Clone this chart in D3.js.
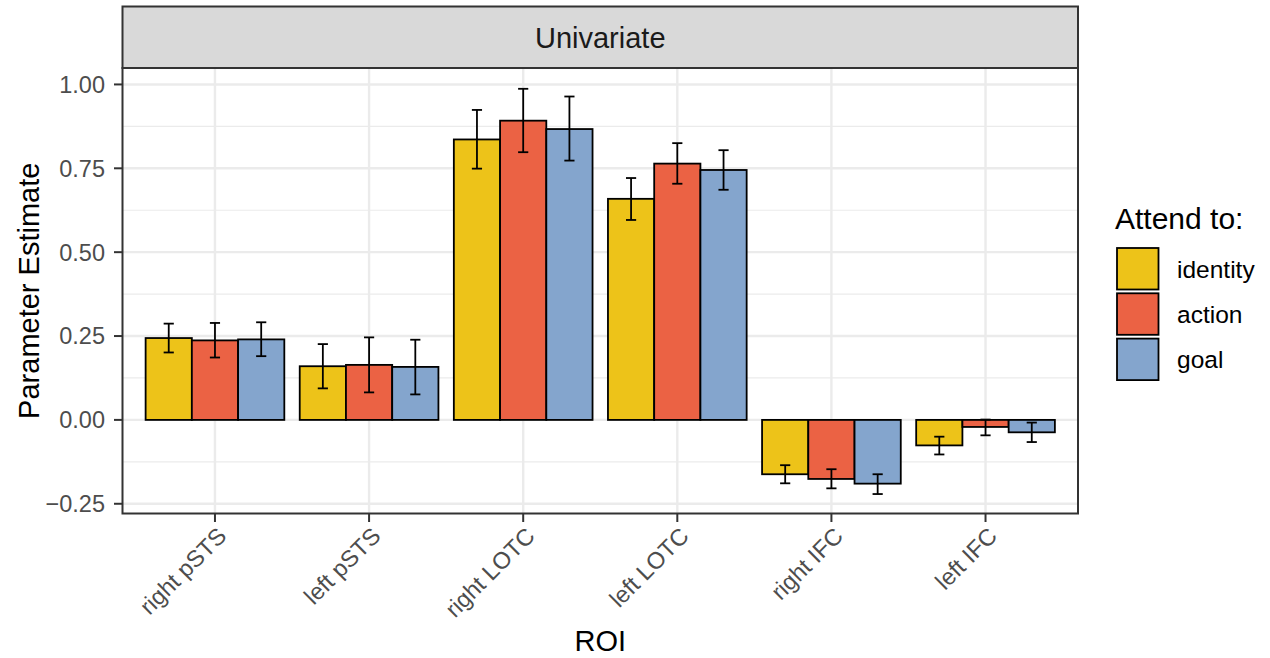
<!DOCTYPE html>
<html><head><meta charset="utf-8">
<script src="https://cdn.jsdelivr.net/npm/d3@7"></script>
<style>body{margin:0;background:#fff}svg{display:block;font-family:"Liberation Sans",Arial,Helvetica,sans-serif}</style>
</head><body><svg id="c" width="1270" height="658"></svg>
<script>
const categories = ["right pSTS","left pSTS","right LOTC","left LOTC","right IFC","left IFC"];
const seriesNames = ["identity","action","goal"];
const colors = ["#EDC319","#EB6244","#84A5CD"];
const identityVals = [0.244,0.160,0.836,0.659,-0.162,-0.076];
const identityLo   = [0.201,0.094,0.749,0.596,-0.189,-0.103];
const identityHi   = [0.287,0.226,0.924,0.721,-0.135,-0.050];
const actionVals = [0.237,0.164,0.892,0.764,-0.176,-0.021];
const actionLo   = [0.186,0.082,0.798,0.704,-0.204,-0.046];
const actionHi   = [0.289,0.246,0.987,0.825,-0.147,0.001];
const goalVals = [0.240,0.158,0.867,0.745,-0.190,-0.037];
const goalLo   = [0.190,0.076,0.773,0.686,-0.221,-0.066];
const goalHi   = [0.291,0.239,0.964,0.804,-0.162,-0.008];
const yTicks = [-0.25,0,0.25,0.5,0.75,1.0];
const yMinor = [-0.125,0.125,0.375,0.625,0.875];

const vals=[identityVals,actionVals,goalVals], los=[identityLo,actionLo,goalLo], his=[identityHi,actionHi,goalHi];
const svg=d3.select("#c");
const L=122.5,R=1078,T=68,B=513.5,stripTop=6.5;
const y=d3.scaleLinear().domain([-0.279,1.049]).range([B,T]);
// discrete scale with ggplot-like expansion of 0.6 on each side
const x=d3.scalePoint().domain(categories).range([L,R]).padding(0.6);
const step=x.step();
const cx=c=>x(c);
const sub=d3.scaleBand().domain(seriesNames).range([-0.45*step,0.45*step]);

const g=svg.append("g");
// grid
g.selectAll(".ymin").data(yMinor).join("line").attr("x1",L).attr("x2",R).attr("y1",d=>y(d)).attr("y2",d=>y(d)).attr("stroke","#EBEBEB").attr("stroke-width",1.2);
g.selectAll(".ymaj").data(yTicks).join("line").attr("x1",L).attr("x2",R).attr("y1",d=>y(d)).attr("y2",d=>y(d)).attr("stroke","#EBEBEB").attr("stroke-width",2.4);
g.selectAll(".xmaj").data(categories).join("line").attr("x1",d=>cx(d)).attr("x2",d=>cx(d)).attr("y1",T).attr("y2",B).attr("stroke","#EBEBEB").attr("stroke-width",2.4);

// bars
seriesNames.forEach((s,si)=>{
  const gg=g.append("g");
  gg.selectAll("rect").data(categories).join("rect")
    .attr("x",(c)=>cx(c)+sub(s))
    .attr("width",sub.bandwidth())
    .attr("y",(c,i)=>y(Math.max(0,vals[si][i])))
    .attr("height",(c,i)=>Math.abs(y(vals[si][i])-y(0)))
    .attr("fill",colors[si]).attr("stroke","#000").attr("stroke-width",1.8);
});
// error bars
seriesNames.forEach((s,si)=>{
  const gg=g.append("g").attr("stroke","#000").attr("stroke-width",1.8);
  categories.forEach((c,i)=>{
    const mx=cx(c)+sub(s)+sub.bandwidth()/2, hw=sub.bandwidth()*0.11;
    gg.append("line").attr("x1",mx).attr("x2",mx).attr("y1",y(los[si][i])).attr("y2",y(his[si][i]));
    gg.append("line").attr("x1",mx-hw).attr("x2",mx+hw).attr("y1",y(los[si][i])).attr("y2",y(los[si][i]));
    gg.append("line").attr("x1",mx-hw).attr("x2",mx+hw).attr("y1",y(his[si][i])).attr("y2",y(his[si][i]));
  });
});
// panel border
svg.append("rect").attr("x",L).attr("y",T).attr("width",R-L).attr("height",B-T).attr("fill","none").attr("stroke","#333").attr("stroke-width",2);
// strip
svg.append("rect").attr("x",L).attr("y",stripTop).attr("width",R-L).attr("height",T-stripTop).attr("fill","#D9D9D9").attr("stroke","#333").attr("stroke-width",2);
svg.append("text").attr("x",(L+R)/2).attr("y",(stripTop+T)/2).attr("dy","0.37em").attr("text-anchor","middle").style("font-size","29px").attr("fill","#1A1A1A").text("Univariate");

// y axis
const ya=svg.append("g");
ya.selectAll("line").data(yTicks).join("line").attr("x1",L-8.5).attr("x2",L).attr("y1",d=>y(d)).attr("y2",d=>y(d)).attr("stroke","#333").attr("stroke-width",2);
ya.selectAll("text").data(yTicks).join("text").attr("x",105).attr("y",d=>y(d)).attr("dy","0.36em").attr("text-anchor","end").style("font-size","23.5px").attr("fill","#4D4D4D").text(d=>d3.format(".2f")(d).replace("-","\u2212"));
// x axis
const xa=svg.append("g");
xa.selectAll("line").data(categories).join("line").attr("x1",d=>cx(d)).attr("x2",d=>cx(d)).attr("y1",B).attr("y2",B+8.5).attr("stroke","#333").attr("stroke-width",2);
xa.selectAll("text").data(categories).join("text")
  .attr("transform",d=>`translate(${cx(d)+1},${B+12}) rotate(-45)`)
  .attr("dy","0.72em").attr("text-anchor","end").style("font-size","23.5px").attr("fill","#4D4D4D").text(d=>d);
// titles
svg.append("text").attr("x",(L+R)/2).attr("y",651).attr("text-anchor","middle").style("font-size","29px").attr("fill","#000").text("ROI");
svg.append("text").attr("transform",`translate(39,${(T+B)/2}) rotate(-90)`).attr("text-anchor","middle").style("font-size","29px").attr("fill","#000").text("Parameter Estimate");

// legend
const lg=svg.append("g");
lg.append("text").attr("x",1115).attr("y",228.5).style("font-size","30px").attr("fill","#000").text("Attend to:");
seriesNames.forEach((s,i)=>{
  const ky=248+i*45.3;
  lg.append("rect").attr("x",1117).attr("y",ky).attr("width",41.5).attr("height",41.5).attr("fill",colors[i]).attr("stroke","#000").attr("stroke-width",1.8);
  lg.append("text").attr("x",1177).attr("y",ky+20.75).attr("dy","0.36em").style("font-size","24.5px").attr("fill","#000").text(s);
});
</script></body></html>
